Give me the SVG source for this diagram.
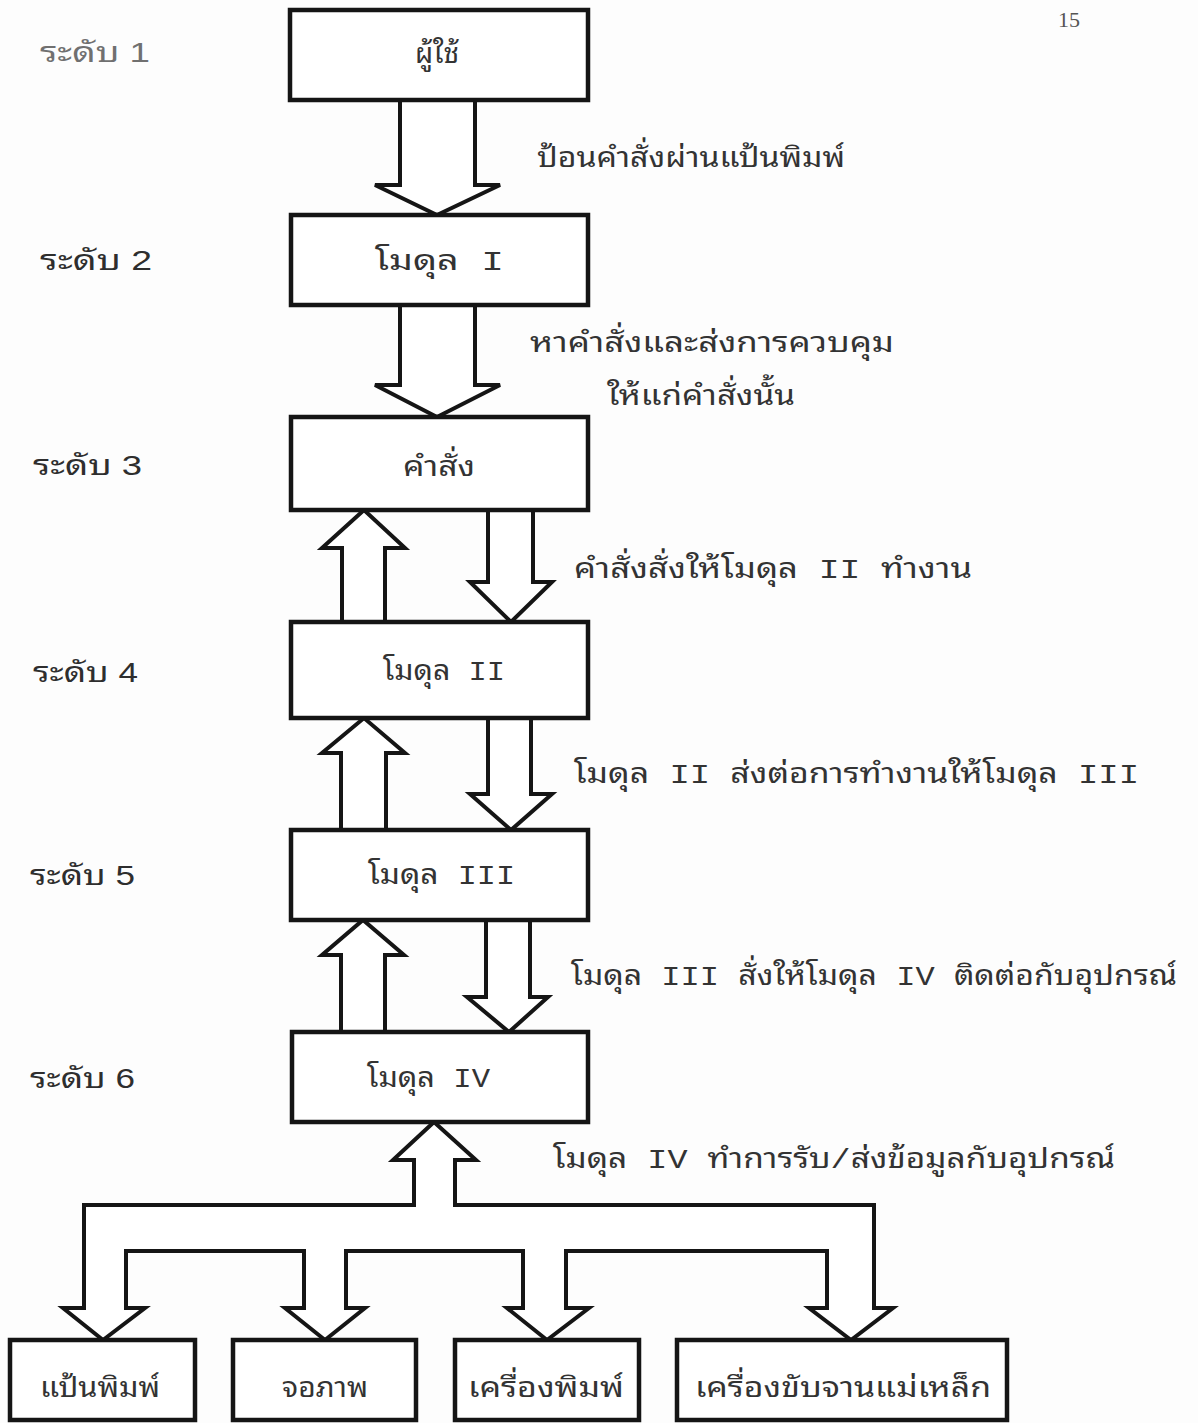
<svg xmlns="http://www.w3.org/2000/svg" width="1198" height="1423" viewBox="0 0 1198 1423">
  <style>
    .box { fill: #ffffff; stroke: #151515; stroke-width: 4.5; }
    .arrow { fill: #ffffff; stroke: #151515; stroke-width: 4; stroke-linejoin: miter; }
    .t { font-family: "Liberation Mono", "Tlwg Typo", "Tlwg Typewriter", "Noto Sans Thai Looped", "Noto Serif Thai", "Loma", "Garuda", "Noto Sans Thai", monospace; font-size: 28px; fill: #333333; }
    .lvl { font-family: "Liberation Sans", "Tlwg Typo", "Noto Sans Thai Looped", "Noto Serif Thai", "Loma", "Noto Sans Thai", sans-serif; font-size: 28px; fill: #2e2e2e; }
    .faint { fill: #707070; }
    .c { text-anchor: middle; }
    .pg { font-family: "Liberation Serif", serif; font-size: 22px; fill: #555; }
  </style>
  <rect width="1198" height="1423" fill="#fdfdfd"/>

  <text class="pg" x="1058" y="27">15</text>

  <!-- level labels -->
  <g id="levels">
    <text class="lvl faint" x="40" y="62" textLength="110" lengthAdjust="spacingAndGlyphs">ระดับ 1</text>
    <text class="lvl" x="40" y="270" textLength="112" lengthAdjust="spacingAndGlyphs">ระดับ 2</text>
    <text class="lvl" x="33" y="475" textLength="109" lengthAdjust="spacingAndGlyphs">ระดับ 3</text>
    <text class="lvl" x="33" y="682" textLength="105" lengthAdjust="spacingAndGlyphs">ระดับ 4</text>
    <text class="lvl" x="30" y="885" textLength="105" lengthAdjust="spacingAndGlyphs">ระดับ 5</text>
    <text class="lvl" x="30" y="1088" textLength="105" lengthAdjust="spacingAndGlyphs">ระดับ 6</text>
  </g>

  <!-- connectors: hollow block arrows -->
  <g id="connectors">
    <polyline class="arrow" points="400,100 400,185 375,185 437,215 500,185 475,185 475,100"/>
    <polyline class="arrow" points="400,305 400,385 375,385 437,417 500,385 475,385 475,305"/>
    <polyline class="arrow" points="342,622 342,548 322,548 364,510 405,548 385,548 385,622"/>
    <polyline class="arrow" points="488,510 488,582 470,582 511,622 552,582 533,582 533,510"/>
    <polyline class="arrow" points="341,830 341,753 322,753 364,718 405,753 386,753 386,830"/>
    <polyline class="arrow" points="488,718 488,794 470,794 511,830 552,794 531,794 531,718"/>
    <polyline class="arrow" points="341,1032 341,955 322,955 363,920 404,955 385,955 385,1032"/>
    <polyline class="arrow" points="486,920 486,997 467,997 509,1032 548,997 530,997 530,920"/>
    <!-- device bus: one arrow up to module IV, four arrows down to the devices -->
    <polygon class="arrow" points="84,1308 84,1205 414,1205 414,1160 393,1160 434,1122 476,1160 455,1160 455,1205 874,1205 874,1308 893,1308 851,1340 809,1308 827,1308 827,1251 566,1251 566,1308 589,1308 547,1340 507,1308 523,1308 523,1251 346,1251 346,1308 365,1308 325,1340 285,1308 304,1308 304,1251 126,1251 126,1308 145,1308 103,1340 63,1308"/>
  </g>

  <!-- arrow captions -->
  <g id="captions">
    <text class="t" x="537" y="167" textLength="308" lengthAdjust="spacingAndGlyphs">ป้อนคำสั่งผ่านแป้นพิมพ์</text>
    <text class="t" x="530" y="352" textLength="364" lengthAdjust="spacingAndGlyphs">หาคำสั่งและส่งการควบคุม</text>
    <text class="t" x="607" y="405" textLength="188" lengthAdjust="spacingAndGlyphs">ให้แก่คำสั่งนั้น</text>
    <text class="t" x="574" y="578" textLength="398" lengthAdjust="spacingAndGlyphs">คำสั่งสั่งให้โมดุล II ทำงาน</text>
    <text class="t" x="574" y="783" textLength="565" lengthAdjust="spacingAndGlyphs">โมดุล II ส่งต่อการทำงานให้โมดุล III</text>
    <text class="t" x="571" y="985" textLength="606" lengthAdjust="spacingAndGlyphs">โมดุล III สั่งให้โมดุล IV ติดต่อกับอุปกรณ์</text>
    <text class="t" x="553" y="1168" textLength="562" lengthAdjust="spacingAndGlyphs">โมดุล IV ทำการรับ/ส่งข้อมูลกับอุปกรณ์</text>
  </g>

  <!-- level nodes -->
  <g id="user">
    <rect class="box" x="290" y="10" width="298" height="90"/>
    <text class="t c" x="437" y="63" font-size="24">ผู้ใช้</text>
  </g>
  <g id="module1">
    <rect class="box" x="291" y="215" width="297" height="90"/>
    <text class="t" x="375" y="270" textLength="129" lengthAdjust="spacingAndGlyphs">โมดุล I</text>
  </g>
  <g id="command">
    <rect class="box" x="291" y="417" width="297" height="93"/>
    <text class="t" x="403" y="476" textLength="72" lengthAdjust="spacingAndGlyphs">คำสั่ง</text>
  </g>
  <g id="module2">
    <rect class="box" x="291" y="622" width="297" height="96"/>
    <text class="t" x="383" y="680" textLength="122" lengthAdjust="spacingAndGlyphs">โมดุล II</text>
  </g>
  <g id="module3">
    <rect class="box" x="291" y="830" width="297" height="90"/>
    <text class="t" x="368" y="884" textLength="147" lengthAdjust="spacingAndGlyphs">โมดุล III</text>
  </g>
  <g id="module4">
    <rect class="box" x="292" y="1032" width="296" height="90"/>
    <text class="t" x="367" y="1087" textLength="123" lengthAdjust="spacingAndGlyphs">โมดุล IV</text>
  </g>

  <!-- device nodes -->
  <g id="keyboard">
    <rect class="box" x="10" y="1340" width="185" height="80"/>
    <text class="t" x="40" y="1397" textLength="120" lengthAdjust="spacingAndGlyphs">แป้นพิมพ์</text>
  </g>
  <g id="screen">
    <rect class="box" x="233" y="1340" width="183" height="80"/>
    <text class="t" x="282" y="1397" textLength="86" lengthAdjust="spacingAndGlyphs">จอภาพ</text>
  </g>
  <g id="printer">
    <rect class="box" x="455" y="1340" width="184" height="80"/>
    <text class="t" x="468" y="1397" textLength="156" lengthAdjust="spacingAndGlyphs">เครื่องพิมพ์</text>
  </g>
  <g id="disk-drive">
    <rect class="box" x="677" y="1340" width="330" height="80"/>
    <text class="t" x="695" y="1397" textLength="296" lengthAdjust="spacingAndGlyphs">เครื่องขับจานแม่เหล็ก</text>
  </g>
</svg>
